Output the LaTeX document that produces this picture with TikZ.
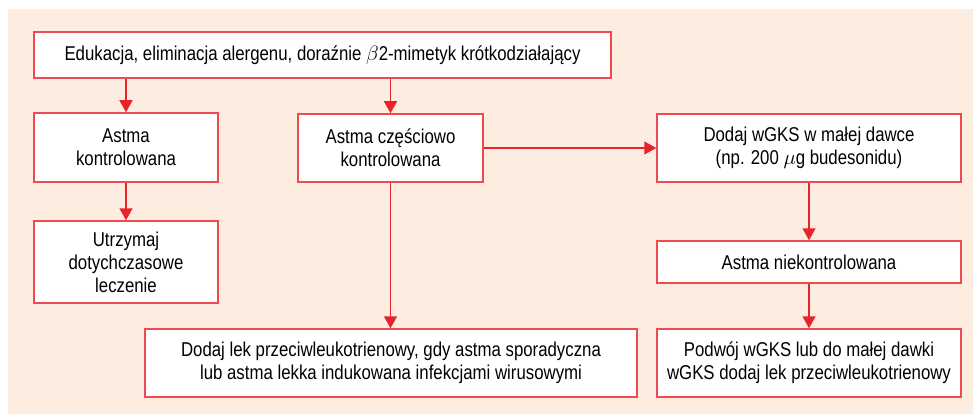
\documentclass[tikz,border=0pt]{standalone}
\usepackage{fontspec}
\setmainfont[FakeStretch=0.84]{Liberation Sans}
\usetikzlibrary{arrows.meta}
\definecolor{bgpeach}{HTML}{FDEDE0}
\definecolor{boxred}{HTML}{EE4A4F}
\definecolor{arrred}{HTML}{E8232B}
\tikzset{
  stepbox/.style={draw=boxred, line width=1.5pt, fill=white, align=center, inner sep=0pt},
  conn/.style={draw=arrred, line width=1.5pt, -{Triangle[length=12pt,width=13pt]}},
}
\begin{document}
\begin{tikzpicture}[x=1pt,y=-1pt, font=\fontsize{20pt}{23pt}\selectfont]
\useasboundingbox (0,0) rectangle (973,414);
\fill[bgpeach] (8,9) rectangle (973,414);
% boxes: centre, width, height
\node[stepbox, minimum width=577pt, minimum height=46pt] (top) at (322.5,55) {Edukacja, eliminacja alergenu, doraźnie $\beta$2-mimetyk krótkodziałający};
\node[stepbox, minimum width=184pt, minimum height=69pt] (ak) at (126,147.5) {Astma\\kontrolowana};
\node[stepbox, minimum width=184pt, minimum height=82pt] (ut) at (126,262) {Utrzymaj\\dotychczasowe\\leczenie};
\node[stepbox, minimum width=185pt, minimum height=68pt] (ac) at (390.5,148) {Astma częściowo\\kontrolowana};
\node[stepbox, minimum width=304pt, minimum height=68pt] (dw) at (809,148) {Dodaj wGKS w małej dawce\\(np. 200 $\mu$g budesonidu)};
\node[stepbox, minimum width=304pt, minimum height=42pt] (an) at (809,262) {Astma niekontrolowana};
\node[stepbox, minimum width=492pt, minimum height=68pt] (dl) at (391,363) {Dodaj lek przeciwleukotrienowy, gdy astma sporadyczna\\lub astma lekka indukowana infekcjami wirusowymi};
\node[stepbox, minimum width=304pt, minimum height=68pt] (pw) at (809,363) {Podwój wGKS lub do małej dawki\\wGKS dodaj lek przeciwleukotrienowy};
% connectors
\draw[conn] (top.south -| ak.north) -- (ak.north);
\draw[conn] (top.south -| ac.north) -- (ac.north);
\draw[conn] (ak) -- (ut);
\draw[conn] (ac.south) -- (ac.south |- dl.north);
\draw[conn] (ac.east) -- (dw.west);
\draw[conn] (dw) -- (an);
\draw[conn] (an) -- (pw);
\end{tikzpicture}
\end{document}
